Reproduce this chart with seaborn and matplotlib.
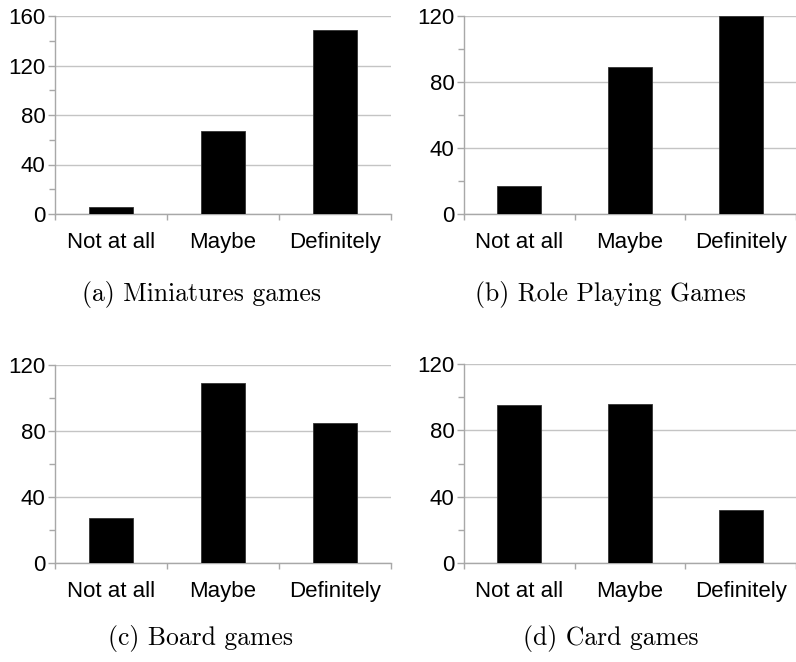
import matplotlib
matplotlib.use("Agg")
import matplotlib.pyplot as plt
import seaborn as sns
import pandas as pd
from matplotlib.ticker import MultipleLocator, FixedLocator

categories = ["Not at all", "Maybe", "Definitely"]

miniatures = [6, 67, 149]
role_playing = [17, 89, 120]
board = [27, 109, 85]
card = [95, 96, 32]

captions = ["(a) Miniatures games", "(b) Role Playing Games",
            "(c) Board games", "(d) Card games"]
y_max = [160, 120, 120, 120]

sns.set_theme(style="white")
plt.rcParams["font.family"] = ["Liberation Sans", "DejaVu Sans"]

fig = plt.figure(figsize=(7.96, 6.62), dpi=100)

# axes rectangles in figure fractions: left, bottom, width, height
rects = [
    (55 / 796, 1 - 214 / 662, 336 / 796, 198 / 662),
    (464 / 796, 1 - 214 / 662, 332 / 796, 198 / 662),
    (55 / 796, 1 - 563 / 662, 336 / 796, 198 / 662),
    (464 / 796, 1 - 563 / 662, 332 / 796, 199 / 662),
]
caption_pos = [(201, 295), (610, 295), (201, 638), (611, 638)]

series = [miniatures, role_playing, board, card]
grid_col = "#c4c4c4"
spine_col = "#a8a8a8"

for rect, vals, top, cap, cpos in zip(rects, series, y_max, captions, caption_pos):
    ax = fig.add_axes(rect)
    df = pd.DataFrame({"response": categories, "count": vals})
    sns.barplot(data=df, x="response", y="count", color="black",
                width=0.4, edgecolor="#333333", linewidth=0.6,
                saturation=1, ax=ax, zorder=3)
    ax.set_xlim(-0.5, 2.5)
    ax.set_ylim(0, top)
    ax.set_xlabel("")
    ax.set_ylabel("")

    ax.yaxis.set_major_locator(MultipleLocator(40))
    ax.yaxis.set_minor_locator(MultipleLocator(20))
    ax.xaxis.set_minor_locator(FixedLocator([-0.5, 0.5, 1.5, 2.5]))

    ax.grid(axis="y", which="major", color=grid_col, linewidth=1.0, zorder=0)
    ax.set_axisbelow(True)

    for side in ("top", "right"):
        ax.spines[side].set_visible(False)
    for side in ("left", "bottom"):
        ax.spines[side].set_color(spine_col)
        ax.spines[side].set_linewidth(1.0)

    ax.tick_params(axis="y", which="major", direction="out", length=5,
                   width=1, color=spine_col, labelsize=16, pad=2,
                   labelcolor="black", left=True)
    ax.tick_params(axis="y", which="minor", direction="out", length=4,
                   width=1, color=spine_col, left=True)
    ax.tick_params(axis="x", which="major", length=0, labelsize=16,
                   pad=13, labelcolor="black", bottom=True)
    ax.tick_params(axis="x", which="minor", direction="out", length=4,
                   width=1, color=spine_col, bottom=True)

    fig.text(cpos[0] / 796, 1 - cpos[1] / 662, cap, family="cmr10",
             fontsize=18.5, ha="center", va="center", color="black")

fig.savefig("out.png", dpi=100, facecolor="white")
